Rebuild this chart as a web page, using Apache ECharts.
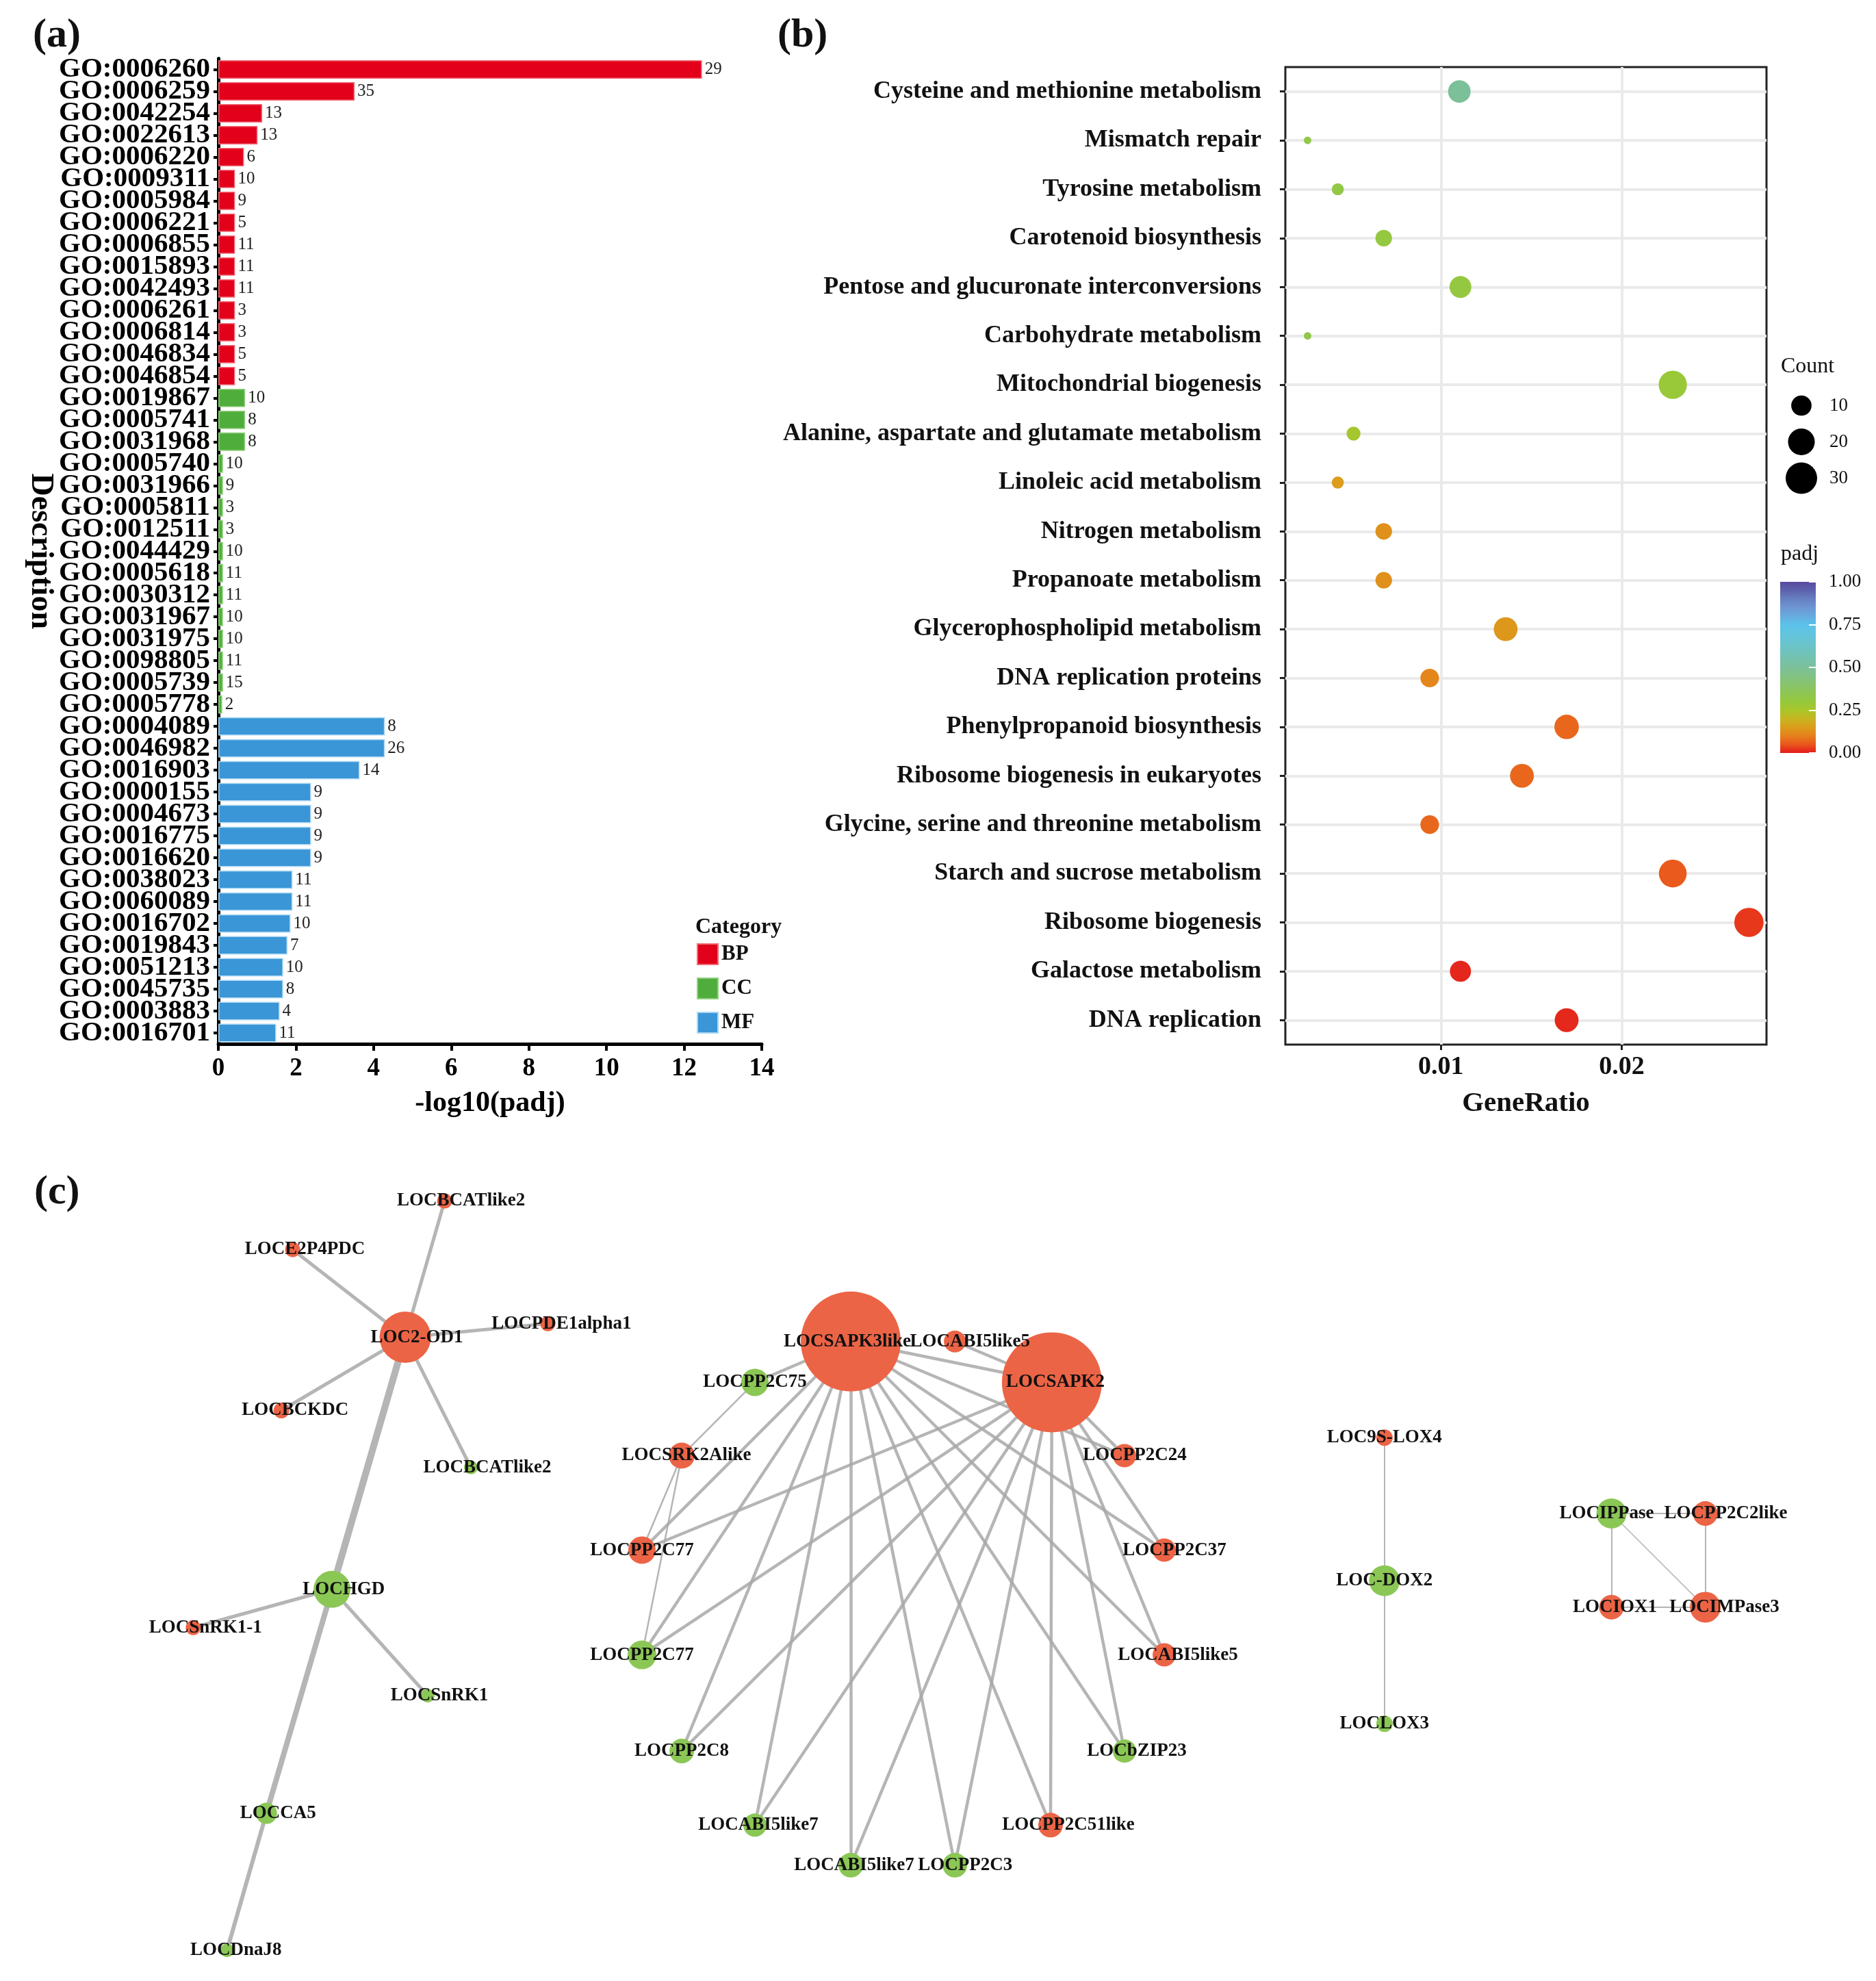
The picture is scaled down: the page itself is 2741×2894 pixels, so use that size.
<!DOCTYPE html>
<html><head><meta charset="utf-8">
<script src="https://cdn.jsdelivr.net/npm/echarts@6/dist/echarts.min.js"></script>
<style>html,body{margin:0;padding:0;background:#fff}#chart{width:2741px;height:2894px}</style>
</head><body><div id="chart"></div>
<script>
// ---------- Panel (a): GO enrichment bars ----------
const bpTerms = ['GO:0006260','GO:0006259','GO:0042254','GO:0022613','GO:0006220','GO:0009311','GO:0005984','GO:0006221','GO:0006855','GO:0015893','GO:0042493','GO:0006261','GO:0006814','GO:0046834','GO:0046854'];
const bpLogPadj = [12.46,3.51,1.13,1.01,0.66,0.43,0.43,0.43,0.43,0.43,0.43,0.43,0.43,0.43,0.43];
const bpCounts = [29,35,13,13,6,10,9,5,11,11,11,3,3,5,5];
const ccTerms = ['GO:0019867','GO:0005741','GO:0031968','GO:0005740','GO:0031966','GO:0005811','GO:0012511','GO:0044429','GO:0005618','GO:0030312','GO:0031967','GO:0031975','GO:0098805','GO:0005739','GO:0005778'];
const ccLogPadj = [0.69,0.69,0.69,0.12,0.12,0.12,0.12,0.12,0.12,0.12,0.12,0.12,0.12,0.12,0.10];
const ccCounts = [10,8,8,10,9,3,3,10,11,11,10,10,11,15,2];
const mfTerms = ['GO:0004089','GO:0046982','GO:0016903','GO:0000155','GO:0004673','GO:0016775','GO:0016620','GO:0038023','GO:0060089','GO:0016702','GO:0019843','GO:0051213','GO:0045735','GO:0003883','GO:0016701'];
const mfLogPadj = [4.29,4.29,3.64,2.39,2.39,2.39,2.39,1.91,1.91,1.86,1.78,1.67,1.67,1.58,1.49];
const mfCounts = [8,26,14,9,9,9,9,11,11,10,7,10,8,4,11];
const goGroups = ['BP','CC','MF'];

// ---------- Panel (b): KEGG dot plot ----------
const pathways = ['Cysteine and methionine metabolism','Mismatch repair','Tyrosine metabolism','Carotenoid biosynthesis','Pentose and glucuronate interconversions','Carbohydrate metabolism','Mitochondrial biogenesis','Alanine, aspartate and glutamate metabolism','Linoleic acid metabolism','Nitrogen metabolism','Propanoate metabolism','Glycerophospholipid metabolism','DNA replication proteins','Phenylpropanoid biosynthesis','Ribosome biogenesis in eukaryotes','Glycine, serine and threonine metabolism','Starch and sucrose metabolism','Ribosome biogenesis','Galactose metabolism','DNA replication'];
const geneRatio = [0.01102,0.00263,0.00430,0.00684,0.01108,0.00263,0.02282,0.00517,0.00430,0.00684,0.00684,0.01358,0.00938,0.01695,0.01448,0.00938,0.02282,0.02703,0.01108,0.01695];
const pathCount = [13,2,3,6,12,2,23,4,3,6,6,15,8,16,15,8,22,25,11,15];
const pathPadj = [0.50,0.33,0.32,0.31,0.31,0.33,0.29,0.26,0.15,0.13,0.13,0.14,0.11,0.07,0.07,0.07,0.055,0.025,0.01,0.012];
const countBreaks = [10,20,30];
const ratioTicks = [0.01,0.02];
const ratioGrid = [0.005,0.01,0.015,0.02,0.025];

// ---------- Panel (c): interaction network ----------
const nodeNames = ['LOC2-OD1','LOCBCATlike2','LOCE2P4PDC','LOCPDE1alpha1','LOCBCKDC','LOCBCATlike2','LOCHGD','LOCSnRK1-1','LOCSnRK1','LOCCA5','LOCDnaJ8',
  'LOCSAPK3like','LOCSAPK2','LOCABI5like5','LOCPP2C75','LOCSRK2Alike','LOCPP2C77','LOCPP2C77','LOCPP2C8','LOCABI5like7','LOCABI5like7','LOCPP2C3','LOCPP2C51like','LOCbZIP23','LOCABI5like5','LOCPP2C37','LOCPP2C24',
  'LOC9S-LOX4','LOC-DOX2','LOCLOX3','LOCIPPase','LOCPP2C2like','LOCIOX1','LOCIMPase3'];
const nodeX = [21.6,23.7,15.6,29.2,15.0,25.1,17.7,10.3,22.8,14.2,12.1,
  45.35,56.07,50.9,40.24,36.34,34.22,34.22,36.34,40.24,45.35,50.9,56.0,59.94,62.06,62.06,59.94,
  73.8,73.8,73.8,85.9,90.9,85.9,90.9];
const nodeY = [24.4,8.4,14.1,22.8,33.0,39.7,54.0,58.5,66.5,80.3,96.4,
  24.9,29.7,24.9,29.7,38.3,49.4,61.7,73.0,81.7,86.4,86.4,81.7,73.0,61.7,49.4,38.3,
  36.2,53.0,69.8,45.1,45.1,56.1,56.1];
const nodeScore = [7.5,2.2,2.2,2.2,2.3,2.0,5.4,2.2,2.0,3.1,2.0,
  14.6,14.6,3.2,4.0,3.8,4.0,4.2,3.6,3.4,3.6,3.6,3.6,3.4,3.4,3.4,3.4,
  2.4,4.5,2.4,4.4,3.6,3.6,4.5];
const nodeReg = ['up','up','up','up','up','down','down','up','down','down','down',
  'up','up','up','down','up','up','down','down','down','down','down','up','down','up','up','up',
  'up','down','down','down','up','up','up'];
const linkSource = [0,0,0,0,0,0,6,6,6,9,
  11,11,11,11,11,11,11,11,11,11,11,11,11,
  12,12,12,12,12,12,12,12,12,12,12,12,
  15,15,15,
  27,28,30,30,30,31,32];
const linkTarget = [1,2,3,4,5,6,7,8,9,10,
  12,14,16,17,18,19,20,21,22,23,24,25,26,
  13,16,17,18,19,20,21,22,23,24,25,26,
  14,16,17,
  28,29,31,32,33,33,33];
const linkStrength = [5,5,5,5,5,10,5,5,8,6,
  4.5,4.5,4.5,4.5,4.5,4.5,4.5,4.5,4.5,4.5,4.5,4.5,4.5,
  4.5,4.5,4.5,4.5,4.5,4.5,4.5,4.5,4.5,4.5,4.5,4.5,
  2.5,2.5,2.5,
  2,2,2,2,1.5,2,2];

// ---------- styling helpers ----------
const FONT = '"Liberation Serif", "Times New Roman", serif';
const groupColors = {BP:'#E2001A', CC:'#4FAE3B', MF:'#3A96D6'};
const groupBorders = {BP:'#F06A78', CC:'#92CF80', MF:'#A9D6F3'};
const palette = ['#E41A1C','#E9561C','#E6801B','#DB9D1B','#C7B521','#A9C62A','#95C83C','#8FC654','#88C46C','#82C283','#7CC09A','#75C2AD','#6EC3C0','#68C4D0','#62C4DF','#5CC2EA','#66ABDE','#6E95D2','#6680C0','#5E62AE','#574A9E'];
const sizeOf = c => 11 + 35 * Math.sqrt(Math.max(c - 2, 0) / 28);
// horizontal nudge of node labels (px), mimicking the reference label placement
const labelNudge = [17,24,18,20,20,24,17,18,17,17,13,
  -5,5,22,0,7,0,0,0,5,5,15,26,18,20,15,15,
  0,0,0,-7,30,5,28];

const allTerms = bpTerms.concat(ccTerms, mfTerms);
const allVals = bpLogPadj.concat(ccLogPadj, mfLogPadj);
const allCounts = bpCounts.concat(ccCounts, mfCounts);
const allGroups = bpTerms.map(() => 'BP').concat(ccTerms.map(() => 'CC'), mfTerms.map(() => 'MF'));

const barSeries = goGroups.map(g => ({
  name: g, type: 'bar', xAxisIndex: 0, yAxisIndex: 0,
  barGap: '-100%', barCategoryGap: '16%',
  data: allVals.map((v, i) => allGroups[i] === g ? v : '-'),
  itemStyle: {color: groupColors[g], borderColor: groupBorders[g], borderWidth: 1.5},
  label: {show: true, position: 'right', distance: 4, fontFamily: FONT, fontSize: 25, color: '#222',
    formatter: p => String(allCounts[p.dataIndex])}
}));

const chart = echarts.init(document.getElementById('chart'));
const option = {
  animation: false,
  backgroundColor: '#fff',
  title: [
    {text: '(a)', left: 48, top: 22, padding: 0, textStyle: {fontFamily: FONT, fontSize: 60, fontWeight: 'bold', color: '#111'}},
    {text: '(b)', left: 1136, top: 22, padding: 0, textStyle: {fontFamily: FONT, fontSize: 60, fontWeight: 'bold', color: '#111'}},
    {text: '(c)', left: 50, top: 1712, padding: 0, textStyle: {fontFamily: FONT, fontSize: 60, fontWeight: 'bold', color: '#111'}},
    {text: 'Category', left: 1016, top: 1339, padding: 0, textStyle: {fontFamily: FONT, fontSize: 32, fontWeight: 'bold', color: '#111'}},
    {text: 'Count', left: 2602, top: 520, padding: 0, textStyle: {fontFamily: FONT, fontSize: 32, fontWeight: 'normal', color: '#111'}},
    {text: 'padj', left: 2602, top: 794, padding: 0, textStyle: {fontFamily: FONT, fontSize: 32, fontWeight: 'normal', color: '#111'}}
  ],
  legend: {
    data: goGroups, orient: 'vertical', left: 1018, top: 1378, padding: 0,
    itemWidth: 30, itemHeight: 30, itemGap: 18, icon: 'rect', selectedMode: false,
    textStyle: {fontFamily: FONT, fontSize: 31, fontWeight: 'bold', color: '#111'}
  },
  visualMap: {
    type: 'continuous', show: false, min: 0, max: 1, dimension: 2, seriesIndex: 4,
    inRange: {color: palette}
  },
  grid: [
    {left: 319, top: 85.5, width: 794, height: 1439.5},
    {left: 1878, top: 98, width: 703, height: 1428, show: true, borderColor: '#222', borderWidth: 3, backgroundColor: 'transparent'},
    {left: 2605, top: 566, width: 54, height: 159},
    {left: 2601, top: 850, width: 52, height: 250},
    {left: 0, top: 1650, width: 2741, height: 1244}
  ],
  xAxis: [
    {gridIndex: 0, type: 'value', min: 0, max: 14, interval: 2,
      axisLine: {show: true, lineStyle: {color: '#000', width: 5}},
      axisTick: {show: true, length: 10, lineStyle: {color: '#000', width: 4}},
      axisLabel: {fontFamily: FONT, fontSize: 37, fontWeight: 'bold', color: '#000', margin: 18},
      splitLine: {show: false},
      name: '-log10(padj)', nameLocation: 'middle', nameGap: 66,
      nameTextStyle: {fontFamily: FONT, fontSize: 42, fontWeight: 'bold', color: '#000'}},
    {gridIndex: 1, type: 'value', min: 0.0014, max: 0.0280,
      axisLine: {show: false},
      axisTick: {show: true, customValues: ratioTicks, length: 8, lineStyle: {color: '#222', width: 3}},
      axisLabel: {customValues: ratioTicks, formatter: v => v.toFixed(2), fontFamily: FONT, fontSize: 38, fontWeight: 'bold', color: '#111', margin: 14},
      splitLine: {show: false},
      name: 'GeneRatio', nameLocation: 'middle', nameGap: 66,
      nameTextStyle: {fontFamily: FONT, fontSize: 41, fontWeight: 'bold', color: '#111'}},
    {gridIndex: 2, type: 'category', data: [''], show: false},
    {gridIndex: 3, type: 'category', data: [''], show: false},
    {gridIndex: 4, type: 'value', min: 0, max: 100, show: false}
  ],
  yAxis: [
    {gridIndex: 0, type: 'category', data: allTerms, inverse: true,
      axisLine: {show: true, lineStyle: {color: '#000', width: 5}},
      axisTick: {show: true, length: 7, alignWithLabel: true, interval: 0, lineStyle: {color: '#000', width: 4}},
      axisLabel: {interval: 0, fontFamily: FONT, fontSize: 41, fontWeight: 'bold', color: '#000', margin: 12, lineHeight: 32},
      name: 'Description', nameLocation: 'middle', nameRotate: -90, nameGap: 236,
      nameTextStyle: {fontFamily: FONT, fontSize: 46, fontWeight: 'bold', color: '#000'}},
    {gridIndex: 1, type: 'category', data: pathways, inverse: true,
      axisLine: {show: false},
      axisTick: {show: true, length: 8, alignWithLabel: true, interval: 0, lineStyle: {color: '#222', width: 3}},
      axisLabel: {interval: 0, fontFamily: FONT, fontSize: 36, fontWeight: 'bold', color: '#111', margin: 35},
      splitLine: {show: false}},
    {gridIndex: 2, type: 'category', data: countBreaks.map(String), inverse: true, position: 'right',
      axisLine: {show: false}, axisTick: {show: false},
      axisLabel: {interval: 0, fontFamily: FONT, fontSize: 27, color: '#111', margin: 14}},
    {gridIndex: 3, type: 'value', min: 0, max: 1, interval: 0.25, position: 'right', z: 10,
      axisLine: {show: false},
      axisTick: {show: true, inside: true, length: 10, lineStyle: {color: '#fff', width: 2}},
      axisLabel: {formatter: v => v.toFixed(2), fontFamily: FONT, fontSize: 27, color: '#111', margin: 19},
      splitLine: {show: false}},
    {gridIndex: 4, type: 'value', min: 0, max: 100, inverse: true, show: false}
  ],
  series: barSeries.concat([
    {type: 'scatter', xAxisIndex: 1, yAxisIndex: 1, z: 1, silent: true, data: [],
      markLine: {silent: true, z: 1, symbol: ['none','none'], label: {show: false},
        lineStyle: {color: '#EAEAEA', width: 4, type: 'solid'},
        data: pathways.map(p => ({yAxis: p})).concat(ratioGrid.map(v => ({xAxis: v})))}},
    {type: 'scatter', xAxisIndex: 1, yAxisIndex: 1, z: 3,
      data: pathways.map((p, i) => [geneRatio[i], p, pathPadj[i], pathCount[i]]),
      symbolSize: v => sizeOf(v[3]), itemStyle: {opacity: 1}},
    {type: 'scatter', xAxisIndex: 2, yAxisIndex: 2,
      data: countBreaks.map(c => ['', String(c), c]),
      symbolSize: v => sizeOf(v[2]), itemStyle: {color: '#000', opacity: 1}},
    {type: 'bar', xAxisIndex: 3, yAxisIndex: 3, barWidth: '100%', data: [1],
      itemStyle: {color: {type: 'linear', x: 0, y: 1, x2: 0, y2: 0,
        colorStops: palette.map((c, i) => ({offset: i / (palette.length - 1), color: c}))}}},
    {type: 'graph', coordinateSystem: 'cartesian2d', xAxisIndex: 4, yAxisIndex: 4,
      layout: 'none', roam: false,
      categories: [{name: 'up', itemStyle: {color: '#EC6446'}}, {name: 'down', itemStyle: {color: '#8BC755'}}],
      data: nodeNames.map((n, i) => ({id: 'n' + i, name: n, value: [nodeX[i], nodeY[i]],
        symbolSize: nodeScore[i] * 10, category: nodeReg[i] === 'up' ? 0 : 1,
        label: {offset: [labelNudge[i], 0]}})),
      links: linkSource.map((s, i) => ({source: 'n' + s, target: 'n' + linkTarget[i],
        lineStyle: {width: linkStrength[i]}})),
      lineStyle: {color: '#A8A8A8', opacity: 0.85, curveness: 0},
      label: {show: true, position: 'inside', fontFamily: FONT, fontSize: 27, fontWeight: 'bold', color: '#111'},
      emphasis: {disabled: true}}
  ])
};
chart.setOption(option);
</script>
</body></html>
